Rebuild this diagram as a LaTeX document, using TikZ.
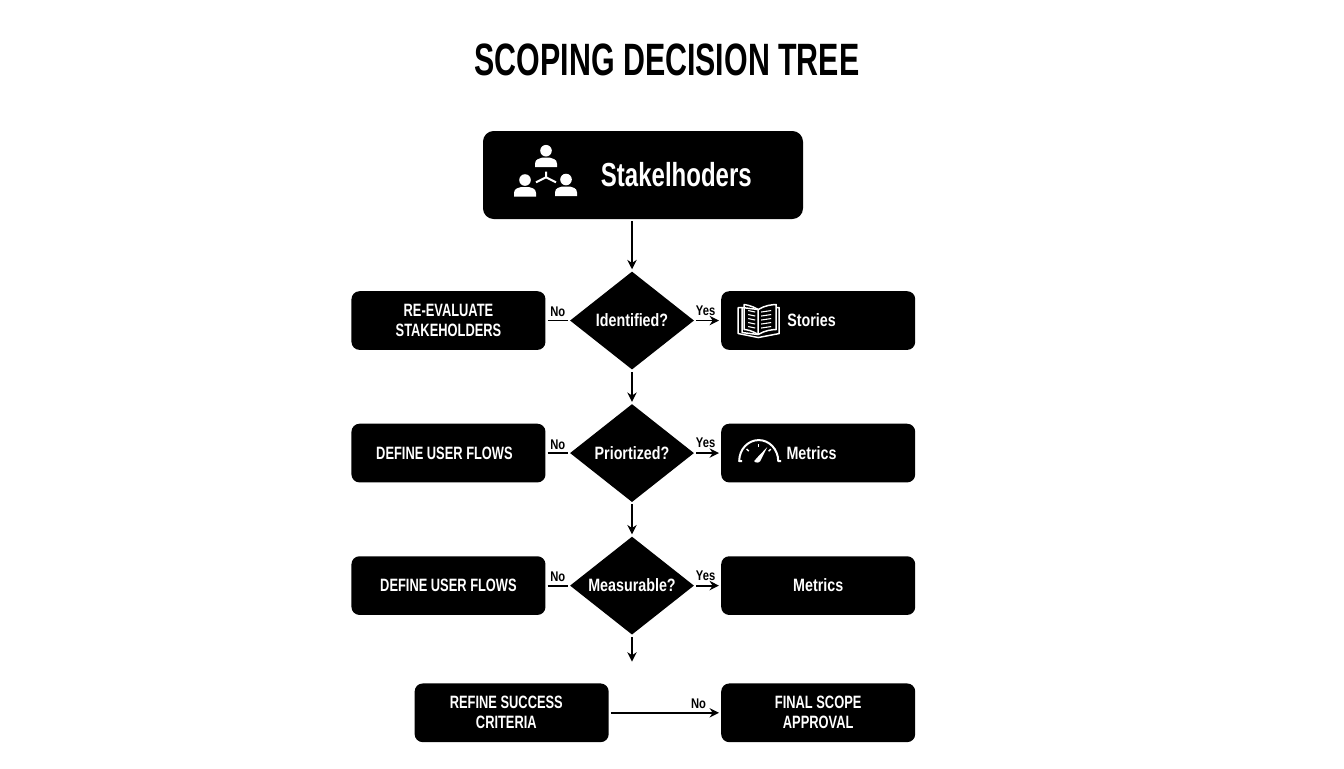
\documentclass[tikz,border=0pt]{standalone}
\usepackage{fontspec}
\setmainfont{Liberation Sans}[FakeStretch=0.8]
\newfontfamily\capsfont{Liberation Sans}[FakeStretch=0.72]
\newfontfamily\titlefont{Liberation Sans}[FakeStretch=0.67]
\usetikzlibrary{shapes.geometric}
\usetikzlibrary{arrows.meta}
\usetikzlibrary{positioning}
\tikzstyle{link} = [draw=black, line width=1.4pt, shorten >=1.5pt, shorten <=1.5pt]
\tikzstyle{every block} = [fill=black, text=white, align=center, inner sep=0pt]
\tikzstyle{block} = [rectangle, rounded corners=6pt, minimum width=145.5pt, minimum height=44pt, font=\capsfont\bfseries\fontsize{13.4}{15}\selectfont, every block]
\tikzstyle{wordblock} = [block, font=\bfseries\fontsize{13.4}{15}\selectfont]
\tikzstyle{topblock} = [rectangle, rounded corners=8pt, minimum width=240pt, minimum height=66pt, font=\capsfont\bfseries\fontsize{25}{25}\selectfont, every block]
\tikzstyle{decision} = [diamond, aspect=1.265, minimum width=93pt, minimum height=73.5pt, font=\bfseries\fontsize{13.4}{15}\selectfont, every block]
\tikzstyle{tag} = [font=\bfseries\fontsize{10.5}{10.5}\selectfont, inner sep=2.2pt, above]
\tikzstyle{yestag} = [tag, xshift=-1.5pt, yshift=1pt]
\tikzstyle{icon} = [draw=white, fill=none, line width=1.1pt, line join=round]
\newcommand{\personicon}[2]{
  \fill[white] (#1,#2) circle (5.8);
  \fill[white] (#1-11,#2+16.5) -- (#1-11,#2+13) .. controls (#1-11,#2+8) and (#1-6,#2+8) .. (#1-4,#2+7) -- (#1+4,#2+7) .. controls (#1+6,#2+8) and (#1+11,#2+8) .. (#1+11,#2+13) -- (#1+11,#2+16.5) -- cycle;
}

\begin{document}
\begin{tikzpicture} [x=0.75pt, y=-0.75pt, every edge/.style={link, {Stealth[length=7pt,width=7pt]}-}]

\useasboundingbox (0,0) rectangle (1344,768);

% Title

\node[font=\titlefont\bfseries\fontsize{34}{34}\selectfont] (title) at (667,60) {SCOPING DECISION TREE};

% Stakeholders

\node[topblock] (stakeholders) at (643,175) {\hspace*{50pt}Stakelhoders};

% Decisions

\node[decision] (identified) [below=39pt of stakeholders, xshift=-8.25pt] {Identified?} edge (stakeholders.south -| identified);

\node[decision] (prioritized) [below=25.5pt of identified] {Priortized?} edge (identified);

\node[decision] (measurable) [below=25.5pt of prioritized] {Measurable?} edge (prioritized);

\coordinate[below=21.5pt of measurable] (dropend);
\draw[link, -{Stealth[length=7pt,width=7pt]}] (measurable) -- (dropend);

% No branches

\node[block] (reevaluate) [left=18pt of identified] {RE-EVALUATE\\STAKEHOLDERS} edge [-] node[tag] {No} (identified);

\node[block] (flowsone) [left=18pt of prioritized] {\hspace*{-6pt}DEFINE USER FLOWS} edge [-] node[tag] {No} (prioritized);

\node[block] (flowstwo) [left=18pt of measurable] {DEFINE USER FLOWS} edge [-] node[tag] {No} (measurable);

% Yes branches

\node[wordblock] (stories) [right=20pt of identified] {\hspace*{-10pt}Stories} edge node[yestag] {Yes} (identified);

\node[wordblock] (metricsone) [right=20pt of prioritized] {\hspace*{-10pt}Metrics} edge node[yestag] {Yes} (prioritized);

\node[wordblock] (metricstwo) [right=20pt of measurable] {Metrics} edge node[yestag] {Yes} (measurable);

% Last row

\node[block] (approval) [below=51pt of metricstwo] {FINAL SCOPE\\APPROVAL};

\node[block] (refine) [left=84pt of approval] {\hspace*{-8pt}REFINE SUCCESS\\\hspace*{-8pt}CRITERIA} edge [-{Stealth[length=7pt,width=7pt]}] node[tag, pos=0.8] {No} (approval);

% Icons

\begin{scope}[shift={(stakeholders.center)}]
  \personicon{-97}{-24.3}
  \personicon{-118}{5}
  \personicon{-77}{4.5}
  \draw[white, line width=1.5pt] (-97,2.3) -- (-97,-3.3) (-97,2.3) -- (-107,7.3) (-97,2.3) -- (-87,7.3);
\end{scope}

\begin{scope}[shift={(stories.center)}]
  \draw[icon] (-60,-11) -- (-76,-13) -- (-76,12) -- (-60,14) -- (-60,-11) .. controls (-54,-15) and (-46,-16) .. (-42,-16) -- (-42,9) .. controls (-46,9) and (-54,10) .. (-60,14);
  \draw[icon] (-60,-11) .. controls (-66,-15) and (-74,-16) .. (-74,-16) -- (-74,9) .. controls (-72,9) and (-66,10) .. (-60,14);
  \draw[icon] (-42,-13) -- (-39,-13) -- (-39,13) -- (-60,17) -- (-80,13) -- (-80,-13) -- (-76,-13);
  \foreach \row in {-9,-5,-1,3,7} {
    \draw[white, line width=.8pt] (-70,\row-1) -- (-63,\row+0.5);
    \draw[white, line width=.8pt] (-57,\row+0.5) -- (-47,\row-1);
  }
\end{scope}

\begin{scope}[shift={(metricsone.center)}]
  \draw[icon, line width=1.5pt] (-76,8) -- (-79,8) arc (180:360:19.5 and 21) -- (-37,8);
  \foreach \ang in {225,270,315} {
    \draw[white, line width=1.1pt] (-59.5,8) ++(\ang:14) -- ++(\ang:3);
  }
  \fill[white] (-64,8) -- (-61,4.5) -- (-51,-6) -- (-58,8) .. controls (-59,10) and (-63,10) .. (-64,8) -- cycle;
\end{scope}

\end{tikzpicture}
\end{document}
